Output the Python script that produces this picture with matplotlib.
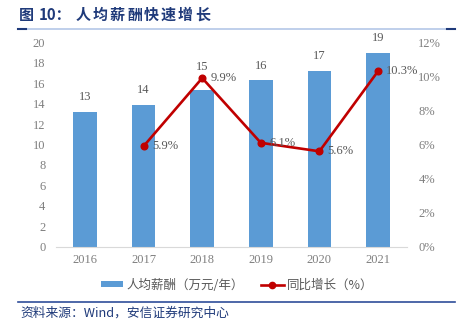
import matplotlib
matplotlib.use("Agg")
import matplotlib.pyplot as plt
from matplotlib.lines import Line2D
from matplotlib.patches import Patch

years = ["2016", "2017", "2018", "2019", "2020", "2021"]
salary = [13.2, 13.9, 15.3, 16.3, 17.2, 19.0]
salary_labels = ["13", "14", "15", "16", "17", "19"]
growth_years = ["2017", "2018", "2019", "2020", "2021"]
growth = [5.9, 9.9, 6.1, 5.6, 10.3]
left_ticks = [0, 2, 4, 6, 8, 10, 12, 14, 16, 18, 20]
right_ticks = [0, 2, 4, 6, 8, 10, 12]
title_parts = ["图", "10：", "人", "均", "薪", "酬", "快", "速", "增", "长"]

W, H = 462, 331
fig = plt.figure(figsize=(W / 100, H / 100), dpi=100)
serif = "Liberation Serif"
cjk = ["Noto Sans CJK SC", "DejaVu Sans"]
navy = "#1F3A7A"
gray_txt = "#595959"
tick_gray = "#7F7F7F"

ax = fig.add_axes([55.7 / W, 1 - 246.7 / H, (407.3 - 55.7) / W, (246.7 - 42.3) / H])
x = list(range(len(years)))
ax.bar(x, salary, width=0.40, color="#5B9BD5", zorder=2)
ax.set_xlim(-0.5, len(years) - 0.5)
ax.set_ylim(0, 20)
ax.set_yticks(left_ticks)
ax.set_xticks(x)
ax.set_xticklabels(years)
for s in ["top", "right", "left"]:
    ax.spines[s].set_visible(False)
ax.spines["bottom"].set_color("#D9D9D9")
ax.spines["bottom"].set_linewidth(0.8)
ax.tick_params(axis="both", length=0, labelsize=9, labelcolor=tick_gray)
ax.tick_params(axis="y", pad=7.5)
ax.tick_params(axis="x", pad=5)
for lab in ax.get_xticklabels() + ax.get_yticklabels():
    lab.set_fontfamily(serif)

label_offsets = [10.5, 10.5, 17, 10.5, 10.5, 10.5]
for xi, v, lab, off in zip(x, salary, salary_labels, label_offsets):
    ax.annotate(lab, (xi, v), xytext=(0, off), textcoords="offset points",
                ha="center", va="center", fontsize=9, color=gray_txt, fontfamily=serif)

ax2 = ax.twinx()
gx = [years.index(y) for y in growth_years]
ax2.plot(gx, growth, color="#C00000", lw=1.9, marker="o", markersize=4.8, zorder=3)
ax2.set_ylim(0, 12)
ax2.set_yticks(right_ticks)
ax2.set_yticklabels([f"{t}%" for t in right_ticks])
for s in ["top", "right", "left", "bottom"]:
    ax2.spines[s].set_visible(False)
ax2.tick_params(axis="y", length=0, labelsize=9, labelcolor=tick_gray, pad=8)
for lab in ax2.get_yticklabels():
    lab.set_fontfamily(serif)
for xi, v in zip(gx, growth):
    ax2.annotate(f"{v:.1f}%", (xi, v), xytext=(6, 0), textcoords="offset points",
                 ha="left", va="center", fontsize=9, color=gray_txt, fontfamily=serif)

# Title (spaced characters)
title_x = [19, 39, 76, 93, 110, 127, 144, 161, 178, 195]
for px, ch in zip(title_x, title_parts):
    fig.text(px / W, 1 - 15 / H, ch, fontsize=10.8, fontweight="bold",
             color=navy, family=cjk, ha="left", va="center")
fig.add_artist(Line2D([18 / W, 455 / W], [1 - 29 / H, 1 - 29 / H], color="#B4C7E7", lw=1.2))
fig.add_artist(Line2D([18 / W, 26 / W], [1 - 29 / H, 1 - 29 / H], color=navy, lw=1.5))
fig.add_artist(Line2D([447 / W, 455 / W], [1 - 29 / H, 1 - 29 / H], color=navy, lw=1.5))

# Legend
handles = [Patch(facecolor="#5B9BD5", edgecolor="none"),
           Line2D([0], [0], color="#C00000", lw=1.9, marker="o", markersize=4.5)]
leg = fig.legend(handles, ["人均薪酬（万元/年）", "同比增长（%）"], loc="center",
                 bbox_to_anchor=(237 / W, 1 - 285 / H), ncol=2, frameon=False,
                 prop={"family": cjk, "size": 9}, handlelength=1.8, handleheight=0.45,
                 columnspacing=1.4, handletextpad=0.25)
for t in leg.get_texts():
    t.set_color(gray_txt)

# Bottom line and source
fig.add_artist(Line2D([18 / W, 455 / W], [1 - 302 / H, 1 - 302 / H], color="#2F4E9A", lw=1.2))
fig.text(20 / W, 1 - 313 / H, "资料来源：Wind，安信证券研究中心", fontsize=9.2, style="italic",
         color=navy, family=cjk, ha="left", va="center")

fig.savefig("out.png", dpi=100)
